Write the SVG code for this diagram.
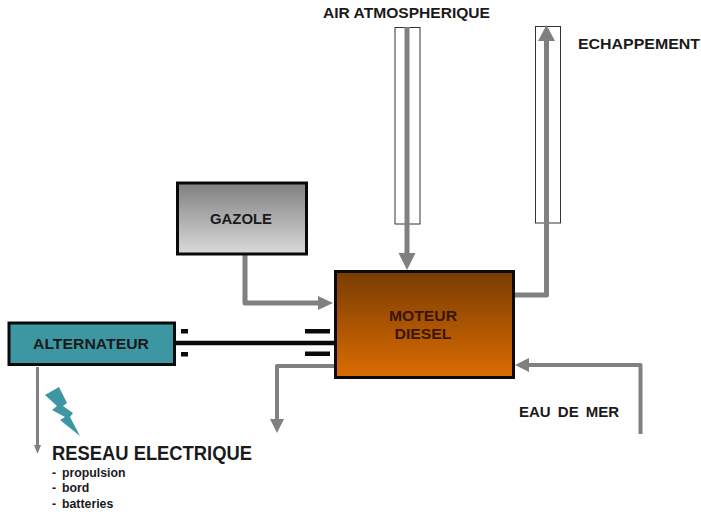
<svg xmlns="http://www.w3.org/2000/svg" width="701" height="514" viewBox="0 0 701 514">
<style>
text{font-family:"Liberation Sans",Arial,sans-serif;font-weight:bold;fill:#1a1a1a;font-size:15.500px}
.box{stroke:#0a0a0a;stroke-width:3}
.pipe{fill:#fff;stroke:#333;stroke-width:1}
.flow{fill:none;stroke:#808080;stroke-linejoin:round}
.head{fill:#808080}
.sub{font-size:12.300px}
</style>
<defs>
<linearGradient id="gGray" x1="0" y1="0" x2="0" y2="1"><stop offset="0" stop-color="#808080"/><stop offset="1" stop-color="#dadada"/></linearGradient>
<linearGradient id="gBrown" x1="0" y1="0" x2="0" y2="1"><stop offset="0" stop-color="#783c02"/><stop offset="1" stop-color="#dc6c02"/></linearGradient>
</defs>
<rect width="701" height="514" fill="#fff"/>
<g id="pipe-air"><rect class="pipe" x="395" y="27.500" width="25" height="196.500"/></g>
<g id="pipe-echappement"><rect class="pipe" x="535.500" y="26.500" width="25" height="196.500"/></g>
<g id="connectors">
<path class="flow" stroke-width="5" d="M407 27V254"/>
<polygon class="head" points="398.500,253 415.500,253 407,270"/>
<path class="flow" stroke-width="5" d="M515 295H546.500V40"/>
<polygon class="head" points="538,41 555,41 546.500,25"/>
<path class="flow" stroke-width="5" d="M245 255V303H319"/>
<polygon class="head" points="318,296 318,310 333,303"/>
<path class="flow" stroke-width="4" d="M640.500 434V365H528"/>
<polygon class="head" points="529,358 529,372 515,365"/>
<path class="flow" stroke-width="4" d="M335 366H277V420"/>
<polygon class="head" points="270,419 284,419 277,433"/>
<path class="flow" stroke-width="3" d="M37.500 367V445"/>
<polygon class="head" points="34,445 41,445 37.500,454"/>
<path fill="none" stroke="#0a0a0a" stroke-width="4.500" d="M175 343H335"/>
<rect x="181" y="329" width="7" height="4.500" fill="#0a0a0a"/>
<rect x="181" y="352" width="7" height="4.500" fill="#0a0a0a"/>
<rect x="305" y="329" width="25" height="4.500" fill="#0a0a0a"/>
<rect x="305" y="351.500" width="25" height="4.500" fill="#0a0a0a"/>
</g>
<g id="gazole"><rect class="box" x="177.500" y="183" width="129" height="71" fill="url(#gGray)"/><text x="241" y="224" text-anchor="middle" textLength="62" lengthAdjust="spacingAndGlyphs">GAZOLE</text></g>
<g id="moteur"><rect class="box" x="335.500" y="271.500" width="178" height="106" fill="url(#gBrown)"/><text x="423" y="321" text-anchor="middle" style="fill:#3a1500" textLength="68" lengthAdjust="spacingAndGlyphs">MOTEUR</text><text x="423" y="339" text-anchor="middle" style="fill:#3a1500" textLength="57" lengthAdjust="spacingAndGlyphs">DIESEL</text></g>
<g id="alternateur"><rect class="box" x="9" y="323" width="165.500" height="41.500" fill="#3d97a3"/><text x="91" y="349" text-anchor="middle" textLength="116" lengthAdjust="spacingAndGlyphs">ALTERNATEUR</text></g>
<g id="eclair"><polygon fill="#3d97a3" points="45,395 59,387 67,403 63,406 73,413 70,417 80,436 60,420 65,417 52,410 57,406"/></g>
<g id="labels">
<text x="323" y="18" textLength="167" lengthAdjust="spacingAndGlyphs">AIR ATMOSPHERIQUE</text>
<text x="578" y="49" textLength="122" lengthAdjust="spacingAndGlyphs">ECHAPPEMENT</text>
<text x="519" y="417" word-spacing="3" style="font-size:15px">EAU DE MER</text>
<text x="52" y="460" style="font-size:19.500px" textLength="200" lengthAdjust="spacingAndGlyphs">RESEAU ELECTRIQUE</text>
<text class="sub" x="52" y="477">-</text><text class="sub" x="62" y="477">propulsion</text>
<text class="sub" x="52" y="492">-</text><text class="sub" x="62" y="492">bord</text>
<text class="sub" x="52" y="508">-</text><text class="sub" x="62" y="508">batteries</text>
</g>
</svg>
